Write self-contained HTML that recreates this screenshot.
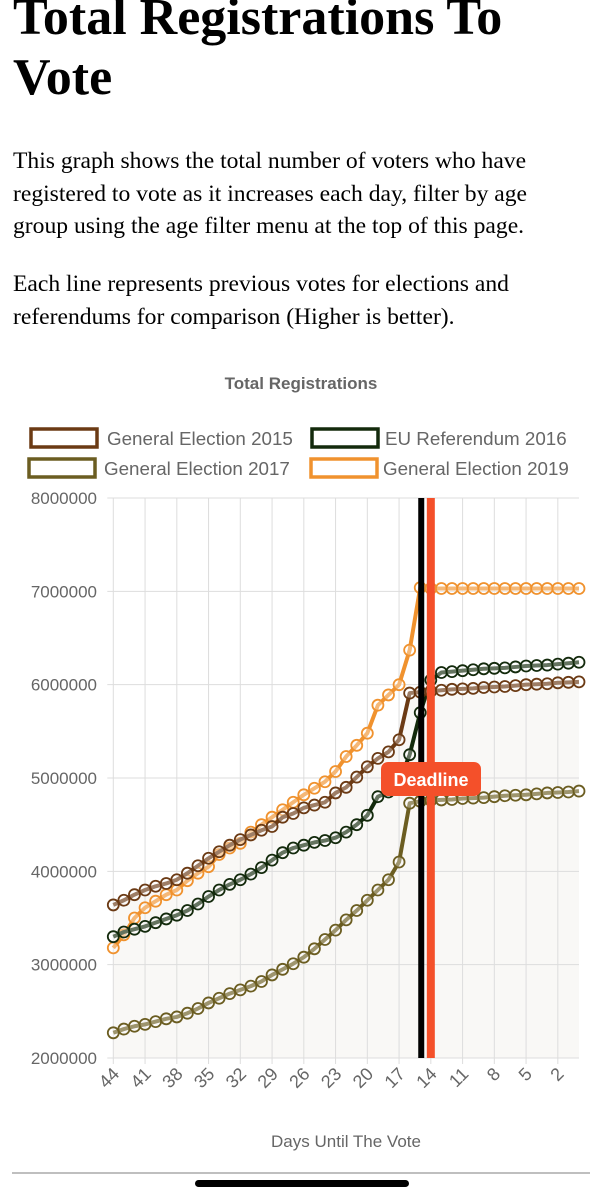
<!DOCTYPE html>
<html><head><meta charset="utf-8"><style>
body{margin:0;width:602px;height:1200px;background:#fff;overflow:hidden;position:relative;font-family:"Liberation Serif",serif}
h1{position:absolute;left:13px;top:-12px;margin:0;font-size:52px;line-height:60px;font-weight:bold;color:#000;width:540px}
p{position:absolute;left:13px;margin:0;font-size:23.6px;line-height:32.5px;color:#000;width:562px}
</style></head><body>
<h1>Total Registrations To Vote</h1>
<p style="top:145px">This graph shows the total number of voters who have registered to vote as it increases each day, filter by age group using the age filter menu at the top of this page.</p>
<p style="top:268px">Each line represents previous votes for elections and referendums for comparison (Higher is better).</p>
<svg id="chart" width="602" height="1200" style="position:absolute;left:0;top:0"></svg>
<script>
const days=[];for(let d=44;d>=0;d--)days.push(d);
const ge2015=[3.64,3.69,3.75,3.80,3.84,3.87,3.91,3.98,4.06,4.14,4.21,4.28,4.34,4.39,4.44,4.48,4.58,4.62,4.68,4.71,4.74,4.84,4.90,5.01,5.12,5.21,5.28,5.41,5.91,5.92,5.93,5.94,5.95,5.955,5.96,5.97,5.975,5.98,5.99,6.0,6.005,6.01,6.02,6.025,6.03];
const eu2016=[3.30,3.35,3.38,3.41,3.45,3.49,3.53,3.58,3.65,3.73,3.80,3.86,3.91,3.97,4.04,4.12,4.20,4.25,4.28,4.31,4.33,4.36,4.42,4.50,4.60,4.80,4.85,4.95,5.25,5.70,6.05,6.13,6.14,6.15,6.16,6.17,6.175,6.18,6.19,6.20,6.205,6.21,6.22,6.23,6.24];
const ge2017=[2.27,2.31,2.34,2.36,2.39,2.42,2.44,2.48,2.53,2.59,2.64,2.69,2.73,2.77,2.82,2.89,2.95,3.01,3.08,3.17,3.27,3.37,3.48,3.58,3.69,3.80,3.91,4.10,4.73,4.75,4.76,4.765,4.77,4.78,4.785,4.79,4.80,4.81,4.815,4.82,4.83,4.84,4.845,4.85,4.86];
const ge2019=[3.18,3.32,3.50,3.61,3.68,3.75,3.80,3.90,3.98,4.05,4.18,4.25,4.30,4.42,4.50,4.58,4.66,4.74,4.82,4.89,4.96,5.07,5.23,5.35,5.48,5.78,5.89,6.0,6.37,7.04,7.03,7.03,7.03,7.03,7.03,7.03,7.03,7.03,7.03,7.03,7.03,7.03,7.03,7.03,7.03];
const yTicks=[2,3,4,5,6,7,8];
const xTicks=[44,41,38,35,32,29,26,23,20,17,14,11,8,5,2];
const deadlineDay=14, lastRegDay=15;
const NS="http://www.w3.org/2000/svg",svg=document.getElementById('chart');
const X0=113.3,X1=579,Y0=1058,Y1=498;
const x=d=>X0+(44-d)*(X1-X0)/44;
const y=v=>Y0-(v-2)*(Y0-Y1)/6;
function mk(t,a,p){const e=document.createElementNS(NS,t);for(const k in a)e.setAttribute(k,a[k]);(p||svg).appendChild(e);return e;}
const FF='Liberation Sans, sans-serif';
let t=mk('text',{x:301,y:389,'text-anchor':'middle','font-family':FF,'font-size':17,'font-weight':'bold',fill:'#666'});t.textContent='Total Registrations';


const series=[["General Election 2015",ge2015,"#6b3a14",31,429,107],["EU Referendum 2016",eu2016,"#132a0c",312,429,385],["General Election 2017",ge2017,"#6b5d21",29,459,104],["General Election 2019",ge2019,"#f0922e",311,459,383]];
series.forEach(s=>{const g=mk('g',{});


mk('rect',{x:s[3],y:s[4],width:66,height:18,fill:'#fff',stroke:s[2],'stroke-width':3.5},g);
const tt=mk('text',{x:s[5],y:s[4]+16,'font-family':FF,'font-size':18.8,fill:'#666'},g);tt.textContent=s[0];});
let fp='M'+x(44)+','+Y0;ge2015.forEach((v,i)=>fp+=' L'+x(days[i])+','+y(v));fp+=' L'+x(0)+','+Y0+'Z';
mk('path',{d:fp,fill:'#f9f8f6'});
xTicks.forEach(d=>{mk('line',{x1:x(d),x2:x(d),y1:Y1,y2:Y0+6,stroke:'#ddd','stroke-width':1});
const tx=mk('text',{transform:`translate(${x(d)+7},${Y0+17}) rotate(-45)`,'text-anchor':'end','font-family':FF,'font-size':18,fill:'#666'});tx.textContent=d;

});
yTicks.forEach(v=>{mk('line',{x1:X0-6,x2:X1,y1:y(v),y2:y(v),stroke:'#ddd','stroke-width':1});
const ty=mk('text',{x:97,y:y(v)+6,'text-anchor':'end','font-family':FF,'font-size':17,fill:'#666'});ty.textContent=(v*1000000).toFixed(0);

});
[...series].reverse().forEach(s=>{const g=mk('g',{});


mk('polyline',{points:s[1].map((v,i)=>x(days[i])+','+y(v)).join(' '),fill:'none',stroke:s[2],'stroke-width':4,'stroke-linejoin':'round'},g);
s[1].forEach((v,i)=>{const c=mk('circle',{cx:x(days[i]),cy:y(v),r:5.5,fill:'rgba(255,255,255,0.35)',stroke:s[2],'stroke-width':1.8},g);

});});
let l1=mk('line',{x1:x(lastRegDay)+1,x2:x(lastRegDay)+1,y1:Y1,y2:Y0,stroke:'#000','stroke-width':6});


let l2=mk('line',{x1:x(deadlineDay),x2:x(deadlineDay),y1:Y1,y2:Y0,stroke:'#f4502a','stroke-width':8});


const dg=mk('g',{});


mk('rect',{x:381,y:762,width:100,height:34,rx:7,fill:'#f4502a'},dg);
const dt=mk('text',{x:431,y:786,'text-anchor':'middle','font-family':FF,'font-size':18,'font-weight':'bold',fill:'#fff'},dg);dt.textContent='Deadline';
const at=mk('text',{x:346,y:1147,'text-anchor':'middle','font-family':FF,'font-size':17,fill:'#666'});at.textContent='Days Until The Vote';


mk('line',{x1:12,x2:590,y1:1173,y2:1173,stroke:'#aaa','stroke-width':1.5});
const hb=mk('rect',{x:195,y:1180,width:214,height:7,rx:3.5,fill:'#000'});


</script>
</body></html>
